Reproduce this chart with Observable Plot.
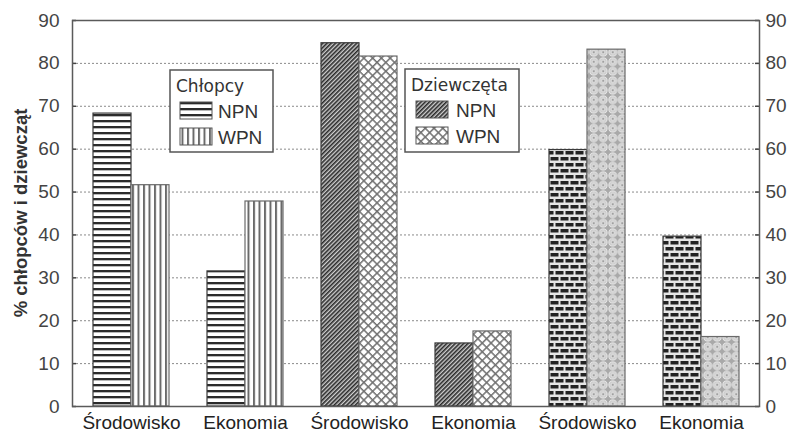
<!DOCTYPE html>
<html>
<head>
<meta charset="utf-8">
<script src="https://cdn.jsdelivr.net/npm/d3@7"></script>
<script src="https://cdn.jsdelivr.net/npm/@observablehq/plot@0.6"></script>
<style>
  body { margin: 0; background: #fff; }
  #wrap { position: relative; width: 790px; height: 436px; }
  #overlay { position: absolute; left: 0; top: 0; pointer-events: none; }
</style>
</head>
<body>
<svg width="0" height="0" style="position:absolute">
  <defs>
    <pattern id="p-hl" patternUnits="userSpaceOnUse" width="6" height="6">
      <rect width="6" height="6" fill="#fff"/>
      <rect y="0" width="6" height="2" fill="#2b2b2b"/>
      <rect y="2" width="6" height="0.7" fill="#999"/>
    </pattern>
    <pattern id="p-vl" patternUnits="userSpaceOnUse" width="5.5" height="6">
      <rect width="5.5" height="6" fill="#fff"/>
      <rect x="0" width="2" height="6" fill="#6a6a6a"/>
    </pattern>
    <pattern id="p-diag" patternUnits="userSpaceOnUse" width="3" height="3" patternTransform="rotate(45)">
      <rect width="3" height="3" fill="#cfcfcf"/>
      <rect width="1.6" height="3" fill="#2a2a2a"/>
    </pattern>
    <pattern id="p-cross" patternUnits="userSpaceOnUse" width="6.2" height="6.2" patternTransform="rotate(45)">
      <rect width="6.2" height="6.2" fill="#fff"/>
      <rect width="1.5" height="6.2" fill="#707070"/>
      <rect width="6.2" height="1.5" fill="#707070"/>
    </pattern>
    <pattern id="p-brick" patternUnits="userSpaceOnUse" width="10" height="12">
      <rect width="10" height="12" fill="#e6e6e6"/>
      <rect x="0.5" y="1" width="8" height="3.5" fill="#222"/>
      <rect x="5.5" y="7" width="8" height="3.5" fill="#222"/>
      <rect x="-4.5" y="7" width="8" height="3.5" fill="#222"/>
    </pattern>
    <pattern id="p-circ" patternUnits="userSpaceOnUse" width="9.5" height="9.5">
      <rect width="9.5" height="9.5" fill="#a9a9a9"/>
      <circle cx="4.75" cy="4.75" r="3.9" fill="#cbcbcb" stroke="#eeeeee" stroke-width="0.9"/>
      <circle cx="4.75" cy="4.75" r="1.8" fill="#a0a0a0" stroke="#f4f4f4" stroke-width="0.8"/>
    </pattern>
  </defs>
</svg>
<div id="wrap">
  <div id="chart"></div>
  <svg id="overlay" width="790" height="436"></svg>
</div>
<script>
// ---- data ----
const groups = ["g1", "g2", "g3", "g4", "g5", "g6"];
const categories = ["Środowisko", "Ekonomia", "Środowisko", "Ekonomia", "Środowisko", "Ekonomia"];
const seriesNames = ["NPN", "WPN"];
const npnValues = [68.3, 31.5, 84.7, 14.7, 59.8, 39.6];
const wpnValues = [51.6, 47.8, 81.6, 17.5, 83.2, 16.2];
const yTicks = [0, 10, 20, 30, 40, 50, 60, 70, 80, 90];
const legendTitles = ["Chłopcy", "Dziewczęta"];

// ---- styling (patterns per panel pair) ----
const npnPatterns = ["p-hl", "p-diag", "p-brick"];
const wpnPatterns = ["p-vl", "p-cross", "p-circ"];

const rows = groups.flatMap((g, i) => [
  {group: g, series: "NPN", value: npnValues[i], fill: `url(#${npnPatterns[Math.floor(i / 2)]})`},
  {group: g, series: "WPN", value: wpnValues[i], fill: `url(#${wpnPatterns[Math.floor(i / 2)]})`}
]);

const W = 790, H = 436, mL = 72, mR = 31, mT = 20, mB = 30;
const innerW = W - mL - mR;
const half = 38;

const chart = Plot.plot({
  width: W,
  height: H,
  marginLeft: mL,
  marginRight: mR,
  marginTop: mT,
  marginBottom: mB,
  style: {fontFamily: "'Liberation Sans', Arial, sans-serif", fontSize: "18px", background: "#fff"},
  x: {type: "band", domain: groups, paddingInner: 0.337, paddingOuter: 0.1685, axis: null},
  y: {domain: [0, 90], axis: null},
  color: {type: "identity"},
  marks: [
    Plot.ruleY(yTicks.filter(d => d > 0 && d < 90), {stroke: "#8a8a8a", strokeDasharray: "2,2"}),
    Plot.barY(rows.filter(d => d.series === "NPN"), {x: "group", y: "value", fill: "fill", stroke: "#3a3a3a", strokeWidth: 1.2, insetRight: half, insetLeft: 0}),
    Plot.barY(rows.filter(d => d.series === "WPN"), {x: "group", y: "value", fill: "fill", stroke: "#6a6a6a", strokeWidth: 1.2, insetLeft: half, insetRight: 0}),
    Plot.ruleY(yTicks, {stroke: "#444", strokeWidth: 1.5, insetRight: innerW - 4}),
    Plot.ruleY(yTicks, {stroke: "#444", strokeWidth: 1.5, insetLeft: innerW - 4}),
    Plot.frame({stroke: "#5a5a5a", strokeWidth: 1.5}),
    Plot.axisY(yTicks, {anchor: "left", tickSize: 0, tickPadding: 13, fill: "#444", fontSize: 19, label: null}),
    Plot.axisY(yTicks, {anchor: "right", tickSize: 0, tickPadding: 6, fill: "#444", fontSize: 19, label: null}),
    Plot.axisX({anchor: "bottom", tickSize: 0, tickPadding: 9, fill: "#222", fontSize: 19, label: null,
      tickFormat: g => categories[groups.indexOf(g)]})
  ]
});
document.getElementById("chart").appendChild(chart);

// ---- overlay: y label and legends ----
const ov = d3.select("#overlay");
ov.append("text")
  .attr("transform", "translate(27,213) rotate(-90)")
  .attr("text-anchor", "middle")
  .attr("font-family", "'Liberation Sans', Arial, sans-serif")
  .attr("font-weight", "bold")
  .attr("font-size", 18.5)
  .attr("fill", "#333")
  .text("% chłopców i dziewcząt");

function legend(x, y, w, h, title, pats, swX, txtX) {
  const g = ov.append("g");
  g.append("rect").attr("x", x).attr("y", y).attr("width", w).attr("height", h)
    .attr("fill", "#fff").attr("stroke", "#555").attr("stroke-width", 1.5);
  g.append("text").attr("x", x + 6).attr("y", y + 22)
    .attr("font-family", "'DejaVu Sans', sans-serif").attr("font-size", 17).attr("fill", "#333")
    .text(title);
  seriesNames.forEach((s, i) => {
    g.append("rect").attr("x", swX).attr("y", y + 32 + i * 26).attr("width", 32).attr("height", 17)
      .attr("fill", `url(#${pats[i]})`).attr("stroke", "#555").attr("stroke-width", 1);
    g.append("text").attr("x", txtX).attr("y", y + 48 + i * 26)
      .attr("font-family", "'Liberation Sans', Arial, sans-serif").attr("font-size", 19).attr("fill", "#333")
      .text(s);
  });
}
legend(170, 70, 103, 82, legendTitles[0], [npnPatterns[0], wpnPatterns[0]], 180, 218);
legend(405, 69, 114, 83, legendTitles[1], [npnPatterns[1], wpnPatterns[1]], 416, 456);
</script>
</body>
</html>
